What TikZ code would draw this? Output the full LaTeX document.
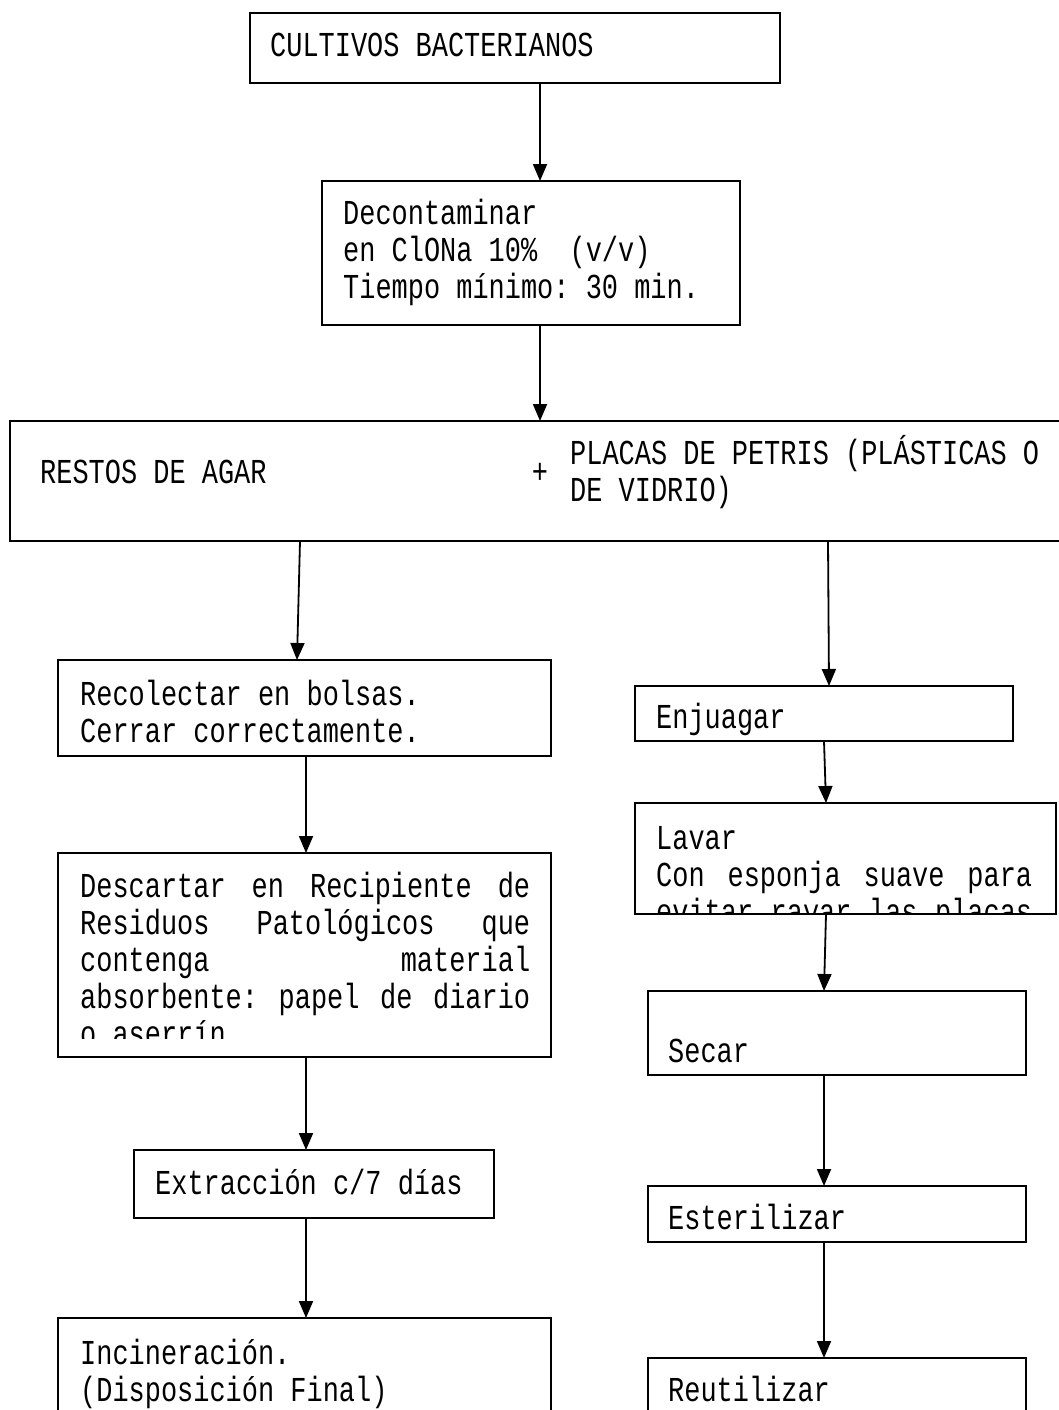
\documentclass[tikz,border=0pt]{standalone}
\usepackage{fontspec}
\newfontfamily\cajafont{Liberation Mono}[FakeStretch=0.77]
\usetikzlibrary{calc,arrows.meta}
\makeatletter
\pgfkeys{
  /caja/.cd,
  id/.store in=\caja@id,
  at/.store in=\caja@at,
  width/.store in=\caja@w,
  height/.store in=\caja@h,
  pad x/.store in=\caja@padx,
  base/.store in=\caja@base,
  cut/.store in=\caja@cut,
}
\newcommand{\caja}[2][]{
  \pgfkeys{/caja/.cd,pad x=21,base=44,cut=2,#1}
  \node[caja box,minimum width=\caja@w pt,minimum height=\caja@h pt] (\caja@id) at \caja@at {};
  \begin{scope}
    \clip ($ (\caja@id.north west) + (0,-1) $) rectangle ($ (\caja@id.south east) + (0,\caja@cut) $);
    \node[caja text] (\caja@id--text) at ($ (\caja@id.north west) + (\caja@padx,32-\caja@base) $) {\rule{0pt}{32pt}#2};
  \end{scope}
}
\makeatother
\newcommand{\justo}[2]{\makebox[#1pt][s]{#2}}

\begin{document}
\begin{tikzpicture}[
    x=1pt,y=1pt,
    caja box/.style={draw,line width=1.8pt,rectangle,anchor=north west,inner sep=0pt,outer sep=0pt},
    caja text/.style={anchor=north west,inner sep=0pt,align=left,font=\cajafont\fontsize{35}{37}\selectfont\frenchspacing},
    paso/.style={-{Triangle[width=14pt,length=17pt]},line width=1.8pt},
  ]
  \useasboundingbox (0,0) rectangle (1058,-1410);

  \caja[id=cultivos,at={(250,-13)},width=530,height=70,pad x=20,base=43]{CULTIVOS BACTERIANOS}
  \caja[id=decontaminar,at={(322,-181)},width=418,height=144,base=43.5]{Decontaminar\\en ClONa 10\% \ (v/v)\\Tiempo mínimo: 30 min.}
  \draw[paso] ($ (cultivos.south west) + (290,0) $) -- ($ (decontaminar.north west) + (218,0) $);

  \caja[id=restos,at={(10,-421)},width=1100,height=120,pad x=30,base=62.5]{RESTOS DE AGAR}
  \node[caja text,anchor=base] (mas) at ($ (restos.north west) + (530,-62.5) $) {+};
  \node[caja text] (placas) at ($ (restos.north west) + (560,32-43.5) $) {\rule{0pt}{32pt}PLACAS DE PETRIS (PLÁSTICAS O\\DE VIDRIO)};
  \draw[paso] ($ (decontaminar.south west) + (218,0) $) -- ($ (restos.north west) + (530,0) $);

  % residuos de agar
  \caja[id=recolectar,at={(58,-660)},width=493,height=96,pad x=22,base=45.5]{Recolectar en bolsas.\\Cerrar correctamente.}
  \caja[id=descartar,at={(58,-853)},width=493,height=204,pad x=22,base=44.5,cut=19]{%
    \justo{450}{Descartar\hfill en\hfill Recipiente\hfill de}\\
    \justo{450}{Residuos\hfill Patológicos\hfill que}\\
    \justo{450}{contenga\hfill material}\\
    \justo{450}{absorbente:\hfill papel\hfill de\hfill diario}\\
    o aserrín}
  \caja[id=extraccion,at={(134,-1150)},width=360,height=68,base=44.5]{Extracción c/7 días}
  \caja[id=incineracion,at={(58,-1318)},width=493,height=120,pad x=22,base=46]{Incineración.\\(Disposición Final)}

  \draw[paso] ($ (restos.south west) + (290,0) $) -- ($ (recolectar.north west) + (239,0) $);
  \draw[paso] ($ (recolectar.south west) + (248,0) $) -- ($ (descartar.north west) + (248,0) $);
  \draw[paso] ($ (descartar.south west) + (248,0) $) -- ($ (extraccion.north west) + (172,0) $);
  \draw[paso] ($ (extraccion.south west) + (172,0) $) -- ($ (incineracion.north west) + (248,0) $);

  % placas de petri
  \caja[id=enjuagar,at={(635,-686)},width=378,height=55,base=42.5]{Enjuagar}
  \caja[id=lavar,at={(635,-803)},width=421,height=111,base=46.5,cut=1]{%
    Lavar\\
    \justo{376}{Con\hfill esponja\hfill suave\hfill para}\\
    \justo{376}{evitar\hfill rayar\hfill las\hfill placas}}
  \caja[id=secar,at={(648,-991)},width=378,height=84,pad x=20,base=71.5]{Secar}
  \caja[id=esterilizar,at={(648,-1186)},width=378,height=56,pad x=20,base=43.5]{Esterilizar}
  \caja[id=reutilizar,at={(648,-1358)},width=378,height=80,pad x=20,base=43.5]{Reutilizar}

  \draw[paso] ($ (restos.south west) + (818,0) $) -- ($ (enjuagar.north west) + (194,0) $);
  \draw[paso] ($ (enjuagar.south west) + (189,0) $) -- ($ (lavar.north west) + (191,0) $);
  \draw[paso] ($ (lavar.south west) + (191,0) $) -- ($ (secar.north west) + (176,0) $);
  \draw[paso] ($ (secar.south west) + (176,0) $) -- ($ (esterilizar.north west) + (176,0) $);
  \draw[paso] ($ (esterilizar.south west) + (176,0) $) -- ($ (reutilizar.north west) + (176,0) $);

\end{tikzpicture}
\end{document}
